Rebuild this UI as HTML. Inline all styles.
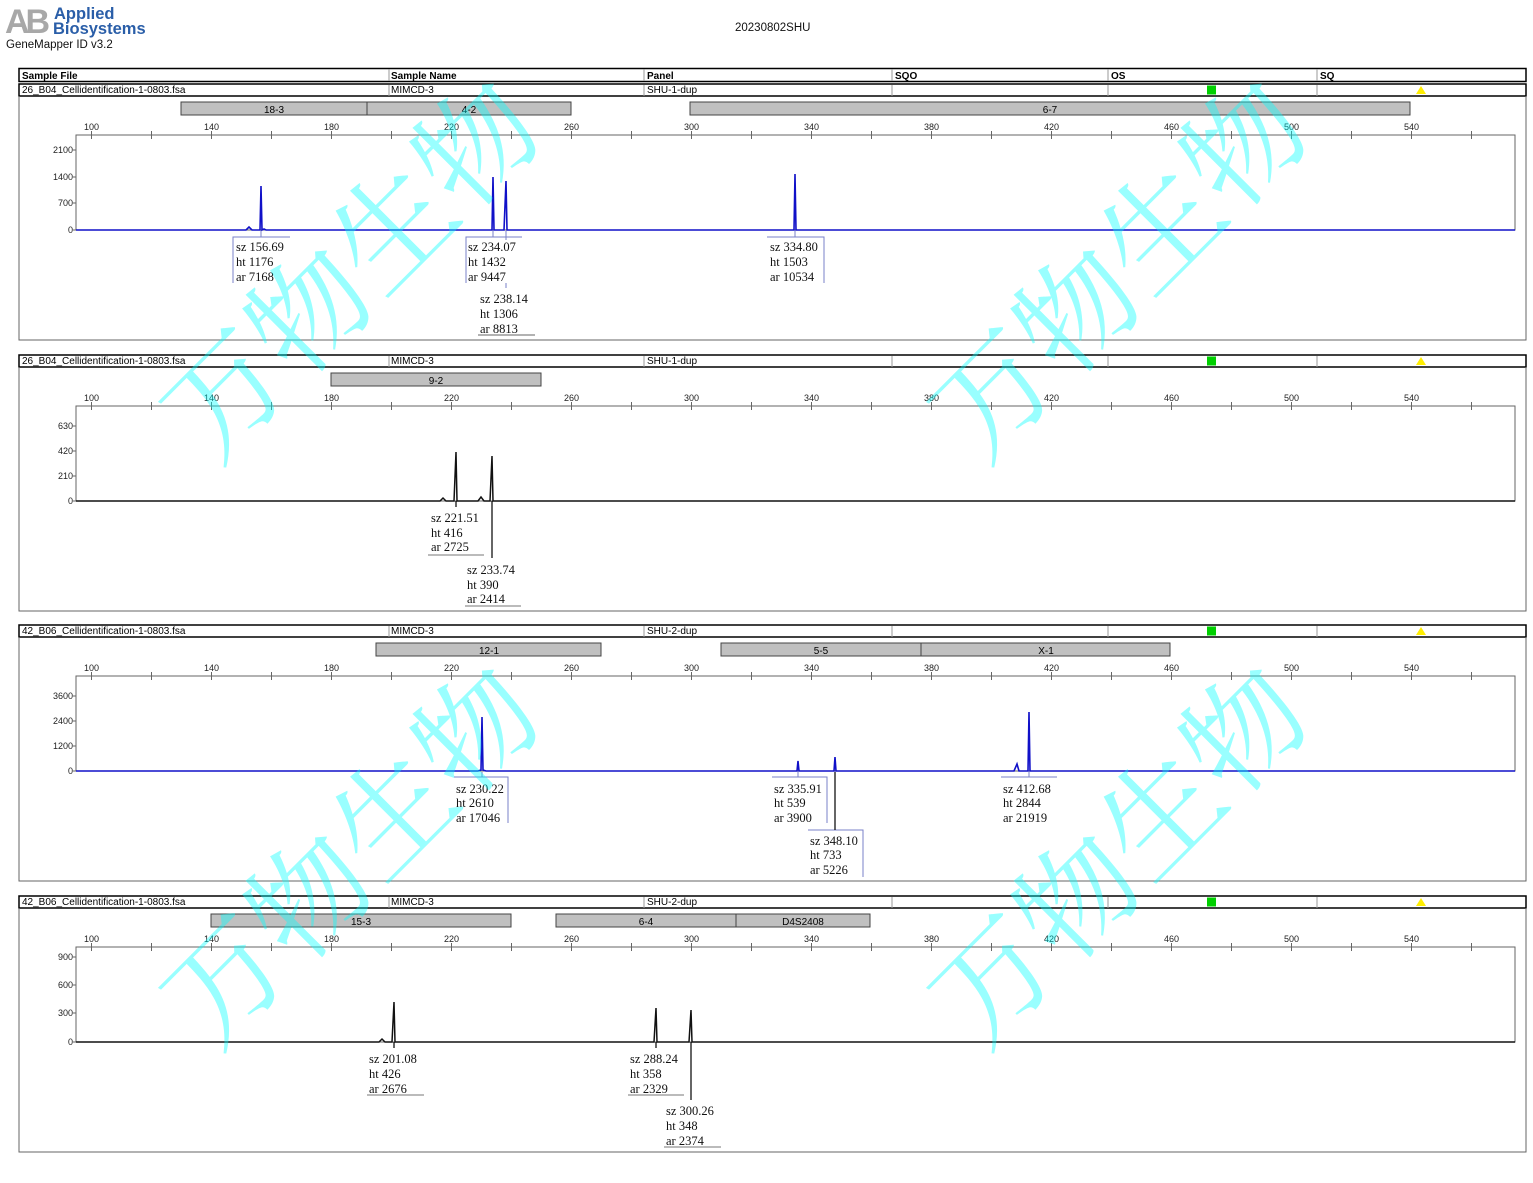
<!DOCTYPE html>
<html><head><meta charset="utf-8"><style>
html,body{margin:0;padding:0;background:#fff;}
svg{display:block;}
.s{font-family:"Liberation Sans",sans-serif;}
.r{font-family:"Liberation Serif",serif;font-size:12.5px;fill:#111;}
.ax{font-family:"Liberation Sans",sans-serif;font-size:9px;fill:#222;}
.hd{font-family:"Liberation Sans",sans-serif;font-size:10px;fill:#000;}
</style></head><body>
<svg width="1533" height="1183" viewBox="0 0 1533 1183" xmlns="http://www.w3.org/2000/svg">
<text x="5" y="33" font-family="Liberation Sans,sans-serif" font-weight="bold" font-size="34" fill="#a8a8a8" letter-spacing="-4">AB</text>
<text x="54" y="19" class="s" font-weight="bold" font-size="16.5" fill="#2a5ea8">Applied</text>
<text x="53" y="34" class="s" font-weight="bold" font-size="16.5" fill="#2a5ea8">Biosystems</text>
<text x="6" y="48" class="s" font-size="11.5" fill="#111">GeneMapper ID v3.2</text>
<text x="735" y="31" class="s" font-size="11.5" fill="#111">20230802SHU</text>

<rect x="19" y="68.5" width="1507" height="13" fill="#fff" stroke="#000" stroke-width="1.5"/>
<g stroke="#999" stroke-width="1"><line x1="389" y1="69" x2="389" y2="81"/><line x1="644" y1="69" x2="644" y2="81"/><line x1="892" y1="69" x2="892" y2="81"/><line x1="1108" y1="69" x2="1108" y2="81"/><line x1="1317" y1="69" x2="1317" y2="81"/></g>
<g class="hd" font-weight="bold" font-size="9"><text x="22" y="79">Sample File</text><text x="391" y="79">Sample Name</text><text x="647" y="79">Panel</text><text x="895" y="79">SQO</text><text x="1111" y="79">OS</text><text x="1320" y="79">SQ</text></g>

<g>
<rect x="19" y="84" width="1507" height="12" fill="#fff" stroke="#000" stroke-width="1.5"/>
<path d="M19 96V340H1526V96" fill="none" stroke="#666" stroke-width="1"/>
<g stroke="#999"><line x1="389" y1="85" x2="389" y2="96"/><line x1="644" y1="85" x2="644" y2="96"/><line x1="892" y1="85" x2="892" y2="96"/><line x1="1108" y1="85" x2="1108" y2="96"/><line x1="1317" y1="85" x2="1317" y2="96"/></g>
<rect x="1207" y="85.5" width="9" height="9" fill="#00d000"/>
<polygon points="1421,86 1416,94 1426,94" fill="#ffee00"/>
</g>
<g class="hd"><text x="22" y="93">26_B04_Cellidentification-1-0803.fsa</text><text x="391" y="93">MIMCD-3</text><text x="647" y="93">SHU-1-dup</text></g>
<g transform="translate(0,271)"><rect x="19" y="84" width="1507" height="12" fill="#fff" stroke="#000" stroke-width="1.5"/><path d="M19 96V340H1526V96" fill="none" stroke="#666"/><g stroke="#999"><line x1="389" y1="85" x2="389" y2="96"/><line x1="644" y1="85" x2="644" y2="96"/><line x1="892" y1="85" x2="892" y2="96"/><line x1="1108" y1="85" x2="1108" y2="96"/><line x1="1317" y1="85" x2="1317" y2="96"/></g><rect x="1207" y="85.5" width="9" height="9" fill="#00d000"/><polygon points="1421,86 1416,94 1426,94" fill="#ffee00"/>
<g class="hd"><text x="22" y="93">26_B04_Cellidentification-1-0803.fsa</text><text x="391" y="93">MIMCD-3</text><text x="647" y="93">SHU-1-dup</text></g></g>
<g transform="translate(0,541)"><rect x="19" y="84" width="1507" height="12" fill="#fff" stroke="#000" stroke-width="1.5"/><path d="M19 96V340H1526V96" fill="none" stroke="#666"/><g stroke="#999"><line x1="389" y1="85" x2="389" y2="96"/><line x1="644" y1="85" x2="644" y2="96"/><line x1="892" y1="85" x2="892" y2="96"/><line x1="1108" y1="85" x2="1108" y2="96"/><line x1="1317" y1="85" x2="1317" y2="96"/></g><rect x="1207" y="85.5" width="9" height="9" fill="#00d000"/><polygon points="1421,86 1416,94 1426,94" fill="#ffee00"/>
<g class="hd"><text x="22" y="93">42_B06_Cellidentification-1-0803.fsa</text><text x="391" y="93">MIMCD-3</text><text x="647" y="93">SHU-2-dup</text></g></g>
<g transform="translate(0,812)"><rect x="19" y="84" width="1507" height="12" fill="#fff" stroke="#000" stroke-width="1.5"/><path d="M19 96V340H1526V96" fill="none" stroke="#666"/><g stroke="#999"><line x1="389" y1="85" x2="389" y2="96"/><line x1="644" y1="85" x2="644" y2="96"/><line x1="892" y1="85" x2="892" y2="96"/><line x1="1108" y1="85" x2="1108" y2="96"/><line x1="1317" y1="85" x2="1317" y2="96"/></g><rect x="1207" y="85.5" width="9" height="9" fill="#00d000"/><polygon points="1421,86 1416,94 1426,94" fill="#ffee00"/>
<g class="hd"><text x="22" y="93">42_B06_Cellidentification-1-0803.fsa</text><text x="391" y="93">MIMCD-3</text><text x="647" y="93">SHU-2-dup</text></g></g>

<g>
<rect x="76" y="135" width="1439" height="95" fill="none" stroke="#666"/>
<path d="M91.5 131v8M151.5 131v8M211.5 131v8M271.5 131v8M331.5 131v8M391.5 131v8M451.5 131v8M511.5 131v8M571.5 131v8M631.5 131v8M691.5 131v8M751.5 131v8M811.5 131v8M871.5 131v8M931.5 131v8M991.5 131v8M1051.5 131v8M1111.5 131v8M1171.5 131v8M1231.5 131v8M1291.5 131v8M1351.5 131v8M1411.5 131v8M1471.5 131v8" stroke="#666"/>
<g class="ax" text-anchor="middle"><text x="91.5" y="130">100</text><text x="211.5" y="130">140</text><text x="331.5" y="130">180</text><text x="451.5" y="130">220</text><text x="571.5" y="130">260</text><text x="691.5" y="130">300</text><text x="811.5" y="130">340</text><text x="931.5" y="130">380</text><text x="1051.5" y="130">420</text><text x="1171.5" y="130">460</text><text x="1291.5" y="130">500</text><text x="1411.5" y="130">540</text></g>
</g>
<g transform="translate(0,271)"><rect x="76" y="135" width="1439" height="95" fill="none" stroke="#666"/><path d="M91.5 131v8M151.5 131v8M211.5 131v8M271.5 131v8M331.5 131v8M391.5 131v8M451.5 131v8M511.5 131v8M571.5 131v8M631.5 131v8M691.5 131v8M751.5 131v8M811.5 131v8M871.5 131v8M931.5 131v8M991.5 131v8M1051.5 131v8M1111.5 131v8M1171.5 131v8M1231.5 131v8M1291.5 131v8M1351.5 131v8M1411.5 131v8M1471.5 131v8" stroke="#666"/><g class="ax" text-anchor="middle"><text x="91.5" y="130">100</text><text x="211.5" y="130">140</text><text x="331.5" y="130">180</text><text x="451.5" y="130">220</text><text x="571.5" y="130">260</text><text x="691.5" y="130">300</text><text x="811.5" y="130">340</text><text x="931.5" y="130">380</text><text x="1051.5" y="130">420</text><text x="1171.5" y="130">460</text><text x="1291.5" y="130">500</text><text x="1411.5" y="130">540</text></g></g>
<g transform="translate(0,541)"><rect x="76" y="135" width="1439" height="95" fill="none" stroke="#666"/><path d="M91.5 131v8M151.5 131v8M211.5 131v8M271.5 131v8M331.5 131v8M391.5 131v8M451.5 131v8M511.5 131v8M571.5 131v8M631.5 131v8M691.5 131v8M751.5 131v8M811.5 131v8M871.5 131v8M931.5 131v8M991.5 131v8M1051.5 131v8M1111.5 131v8M1171.5 131v8M1231.5 131v8M1291.5 131v8M1351.5 131v8M1411.5 131v8M1471.5 131v8" stroke="#666"/><g class="ax" text-anchor="middle"><text x="91.5" y="130">100</text><text x="211.5" y="130">140</text><text x="331.5" y="130">180</text><text x="451.5" y="130">220</text><text x="571.5" y="130">260</text><text x="691.5" y="130">300</text><text x="811.5" y="130">340</text><text x="931.5" y="130">380</text><text x="1051.5" y="130">420</text><text x="1171.5" y="130">460</text><text x="1291.5" y="130">500</text><text x="1411.5" y="130">540</text></g></g>
<g transform="translate(0,812)"><rect x="76" y="135" width="1439" height="95" fill="none" stroke="#666"/><path d="M91.5 131v8M151.5 131v8M211.5 131v8M271.5 131v8M331.5 131v8M391.5 131v8M451.5 131v8M511.5 131v8M571.5 131v8M631.5 131v8M691.5 131v8M751.5 131v8M811.5 131v8M871.5 131v8M931.5 131v8M991.5 131v8M1051.5 131v8M1111.5 131v8M1171.5 131v8M1231.5 131v8M1291.5 131v8M1351.5 131v8M1411.5 131v8M1471.5 131v8" stroke="#666"/><g class="ax" text-anchor="middle"><text x="91.5" y="130">100</text><text x="211.5" y="130">140</text><text x="331.5" y="130">180</text><text x="451.5" y="130">220</text><text x="571.5" y="130">260</text><text x="691.5" y="130">300</text><text x="811.5" y="130">340</text><text x="931.5" y="130">380</text><text x="1051.5" y="130">420</text><text x="1171.5" y="130">460</text><text x="1291.5" y="130">500</text><text x="1411.5" y="130">540</text></g></g>

<g class="ax" text-anchor="end">
<text x="73" y="153">2100</text><text x="73" y="180">1400</text><text x="73" y="206">700</text><text x="73" y="233">0</text>
<text x="73" y="429">630</text><text x="73" y="454">420</text><text x="73" y="479">210</text><text x="73" y="504">0</text>
<text x="73" y="699">3600</text><text x="73" y="724">2400</text><text x="73" y="749">1200</text><text x="73" y="774">0</text>
<text x="73" y="960">900</text><text x="73" y="988">600</text><text x="73" y="1016">300</text><text x="73" y="1045">0</text>
</g>
<path d="M73 150h3M73 177h3M73 203h3M73 230h3M73 426h3M73 451h3M73 476h3M73 501h3M73 696h3M73 721h3M73 746h3M73 771h3M73 957h3M73 985h3M73 1013h3M73 1042h3" stroke="#666"/>

<g fill="#c0c0c0" stroke="#444" stroke-width="1">
<rect x="181" y="102" width="186" height="13"/><rect x="367" y="102" width="204" height="13"/><rect x="690" y="102" width="720" height="13"/>
<rect x="331" y="373" width="210" height="13"/>
<rect x="376" y="643" width="225" height="13"/><rect x="721" y="643" width="200" height="13"/><rect x="921" y="643" width="249" height="13"/>
<rect x="211" y="914" width="300" height="13"/><rect x="556" y="914" width="180" height="13"/><rect x="736" y="914" width="134" height="13"/>
</g>
<g class="hd" text-anchor="middle">
<text x="274" y="113">18-3</text><text x="469" y="113">4-2</text><text x="1050" y="113">6-7</text>
<text x="436" y="384">9-2</text>
<text x="489" y="654">12-1</text><text x="821" y="654">5-5</text><text x="1046" y="654">X-1</text>
<text x="361" y="925">15-3</text><text x="646" y="925">6-4</text><text x="803" y="925">D4S2408</text>
</g>

<g fill="none" stroke="#1010c8" stroke-width="1.6">
<path d="M76 230H246L249 227L252 230H258L260 230L261 186L262 230L264 229L266 230H488L492 230L493 177L494 230H504L506 181L507 230H790L794 230L795 174L796 230H1515"/>
<path d="M76 771H478L481 770L482 717L483 770L486 771H795L797 771L798 761L799 771H832L834 771L835 757L836 771H1014L1017 764L1019 771H1026L1028 771L1029 712L1030 771H1515"/>
</g>
<g fill="none" stroke="#111" stroke-width="1.5">
<path d="M76 501H440L443 498L446 501H454L456 452L457 501H478L481 497L484 501H490L492 456L493 501H1515"/>
<path d="M76 1042H379L382 1039L385 1042H392L394 1002L395 1042H654L656 1008L657 1042H689L691 1010L692 1042H1515"/>
</g>

<g fill="none" stroke="#7a80c8" stroke-width="1">
<path d="M233 283V237H290M261 231V237"/>
<path d="M466 283V237H522M493 231V237M506 231V240M506 283V288"/>
<path d="M767 237H824V283M795 231V237"/>
<path d="M454 777H508V823M482 772V777"/>
<path d="M772 777H827V823M798 772V777"/>
<path d="M808 830H863V877"/>
<path d="M1001 777H1057M1029 772V777"/>
</g>
<path d="M835 772V830" stroke="#000" stroke-width="1.2"/>
<path d="M478 335H535" stroke="#666"/>
<g fill="none" stroke="#777" stroke-width="1">
<path d="M428 555H484M465 606H521M367 1095H424M628 1095H684M664 1147H721"/>
</g>
<path d="M456 501V507M492 501V558M394 1042V1048M656 1042V1048M691 1042V1100" stroke="#000" stroke-width="1.2"/>
<g class="r">
<text x="236" y="251">sz 156.69</text><text x="236" y="266">ht 1176</text><text x="236" y="281">ar 7168</text>
<text x="468" y="251">sz 234.07</text><text x="468" y="266">ht 1432</text><text x="468" y="281">ar 9447</text>
<text x="480" y="303">sz 238.14</text><text x="480" y="318">ht 1306</text><text x="480" y="333">ar 8813</text>
<text x="770" y="251">sz 334.80</text><text x="770" y="266">ht 1503</text><text x="770" y="281">ar 10534</text>
<text x="431" y="522">sz 221.51</text><text x="431" y="537">ht 416</text><text x="431" y="551">ar 2725</text>
<text x="467" y="574">sz 233.74</text><text x="467" y="589">ht 390</text><text x="467" y="603">ar 2414</text>
<text x="456" y="793">sz 230.22</text><text x="456" y="807">ht 2610</text><text x="456" y="822">ar 17046</text>
<text x="774" y="793">sz 335.91</text><text x="774" y="807">ht 539</text><text x="774" y="822">ar 3900</text>
<text x="810" y="845">sz 348.10</text><text x="810" y="859">ht 733</text><text x="810" y="874">ar 5226</text>
<text x="1003" y="793">sz 412.68</text><text x="1003" y="807">ht 2844</text><text x="1003" y="822">ar 21919</text>
<text x="369" y="1063">sz 201.08</text><text x="369" y="1078">ht 426</text><text x="369" y="1093">ar 2676</text>
<text x="630" y="1063">sz 288.24</text><text x="630" y="1078">ht 358</text><text x="630" y="1093">ar 2329</text>
<text x="666" y="1115">sz 300.26</text><text x="666" y="1130">ht 348</text><text x="666" y="1145">ar 2374</text>
</g>

<g font-family="Liberation Serif,'Noto Serif CJK SC',serif" font-size="118" fill="#00ffff" fill-opacity="0.4" text-anchor="middle">
<text transform="translate(362,280) rotate(-45)" dominant-baseline="middle">万物生物</text>
<text transform="translate(1130,280) rotate(-45)" dominant-baseline="middle">万物生物</text>
<text transform="translate(362,866) rotate(-45)" dominant-baseline="middle">万物生物</text>
<text transform="translate(1130,866) rotate(-45)" dominant-baseline="middle">万物生物</text>
</g>
</svg>
</body></html>
